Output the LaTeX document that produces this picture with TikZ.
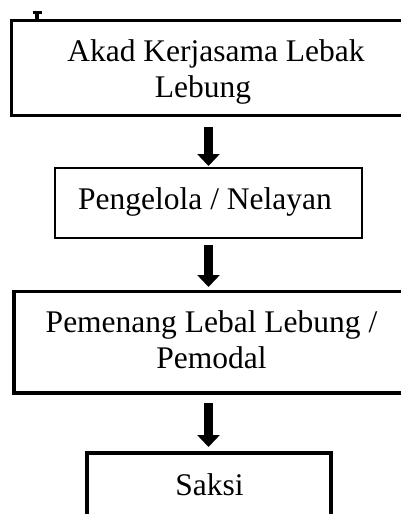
\documentclass[tikz,border=0pt]{standalone}
\usepackage{fontspec}
\setmainfont{Liberation Serif}
\usetikzlibrary{arrows.meta}
\tikzset{
  box/.style={draw=black, line width=3.4pt, rectangle, inner sep=0pt, outer sep=0pt},
  lbl/.style={anchor=base, inner sep=0pt, font=\fontsize{31.5}{36}\selectfont},
  bigarrow/.style={line width=9.5pt, -{Triangle[width=22pt,length=12pt]}}
}
\begin{document}
\begin{tikzpicture}[x=1pt,y=-1pt]
\useasboundingbox (0,0) rectangle (401,514);
\clip (0,0) rectangle (401,514);
% boxes
\node[box, minimum width=408.5pt, minimum height=95pt] (b1) at (216,68) {};
\node[box, line width=2.9pt, minimum width=307pt, minimum height=70pt] (b2) at (208.5,203) {};
\node[box, minimum width=395pt, minimum height=101.5pt] (b3) at (211.5,342.25) {};
\node[box, minimum width=244pt, minimum height=71pt] (b4) at (209,488.5) {};
% texts
\node[lbl] (t1) at (216,61) {\begin{tabular}[t]{@{}c@{}}Akad Kerjasama Lebak\\ Lebung\hspace{26pt}\mbox{}\end{tabular}};
\node[lbl] (t2) at (205,209.3) {Pengelola / Nelayan};
\node[lbl] (t3) at (211.5,332.7) {\begin{tabular}[t]{@{}c@{}}Pemenang Lebal Lebung /\\ Pemodal\end{tabular}};
\node[lbl] (t4) at (209.5,495) {Saksi};
% arrows
\draw[bigarrow, shorten <=11.5pt, shorten >=2pt] (b2.north |- b1.south) -- (b2.north);
\draw[bigarrow, shorten <=7pt, shorten >=4.5pt] (b2.south) -- (b3.north -| b2.south);
\draw[bigarrow, shorten <=10pt, shorten >=6pt] (b2.south |- b3.south) -- (b2.south |- b4.north);
% small mark at top left
\fill (32.7,10.8) rectangle (41.7,13.6);
\fill (35.3,13.6) rectangle (39.2,20);
\end{tikzpicture}
\end{document}
